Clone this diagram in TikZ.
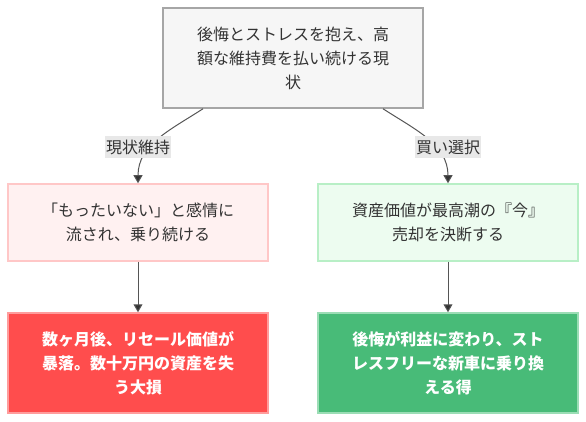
\documentclass[tikz,border=0pt]{standalone}
\usepackage{fontspec}
\setmainfont{Noto Sans CJK JP}
\usepackage{tikz}
\usetikzlibrary{positioning,arrows.meta}

\definecolor{txtgray}{HTML}{333333}
\definecolor{topfill}{HTML}{F6F6F6}
\definecolor{topline}{HTML}{A6A6A6}
\definecolor{keepfill}{HTML}{FFF1F1}
\definecolor{keepline}{HTML}{FFC7C7}
\definecolor{sellfill}{HTML}{EDFCF0}
\definecolor{sellline}{HTML}{B8EFC6}
\definecolor{lossfill}{HTML}{FF4D4D}
\definecolor{lossline}{HTML}{FF9C9C}
\definecolor{gainfill}{HTML}{48BB78}
\definecolor{gainline}{HTML}{9BDDB5}
\definecolor{tagfill}{HTML}{E8E8E8}
\definecolor{flowgray}{HTML}{555555}

\begin{document}
\begin{tikzpicture}[x=1pt,y=-1pt]
        %
        % `box' is the common shape of all five steps.
        % `tag' is used for the labels on the two branches.
        % `flow' is used for every connector.
        \tikzstyle{box} = [draw,line width=1.5pt,minimum width=260pt,inner sep=0pt,align=center,text=txtgray,font=\fontsize{16}{24}\selectfont]
        \tikzstyle{tag} = [fill=tagfill,inner xsep=1pt,inner ysep=4pt,text=txtgray,font=\fontsize{16}{24}\selectfont]
        \tikzstyle{flow} = [draw=flowgray,line width=1pt,-{Triangle[length=8pt,width=9pt,fill=txtgray]}]
        \useasboundingbox (0,0) rectangle (586,422);
        %
        % Start
        \node[box,fill=topfill,draw=topline,minimum height=100pt] (now) at (293,58) {後悔とストレスを抱え、高\\額な維持費を払い続ける現\\状};
        %
        % Branches
        \node[box,fill=keepfill,draw=keepline,minimum height=77pt] (keep) at (138,222.5) {「もったいない」と感情に\\流され、乗り続ける};
        \node[box,fill=sellfill,draw=sellline,minimum height=77pt] (sell) at (448,222.5) {資産価値が最高潮の『今』\\売却を決断する};
        %
        % Outcomes
        \node[box,fill=lossfill,draw=lossline,minimum height=100pt,text=white,font=\fontsize{16}{24}\selectfont\bfseries] (loss) at (138,363) {数ヶ月後、リセール価値が\\暴落。数十万円の資産を失\\う大損};
        \node[box,fill=gainfill,draw=gainline,minimum height=100pt,text=white,font=\fontsize{16}{24}\selectfont\bfseries] (gain) at (448,363) {後悔が利益に変わり、スト\\レスフリーな新車に乗り換\\える得};
        %
        % Connectors
        \draw[flow] ([xshift=-90pt]now.south) to[out=213,in=90] (keep.north);
        \draw[flow] ([xshift=90pt]now.south) to[out=-33,in=90] (sell.north);
        \draw[flow] (keep) -- (loss);
        \draw[flow] (sell) -- (gain);
        %
        % Branch labels
        \node[tag] (lkeep) at (138,147) {現状維持};
        \node[tag] (lsell) at (448,147) {買い選択};
        %
    \end{tikzpicture}
\end{document}
